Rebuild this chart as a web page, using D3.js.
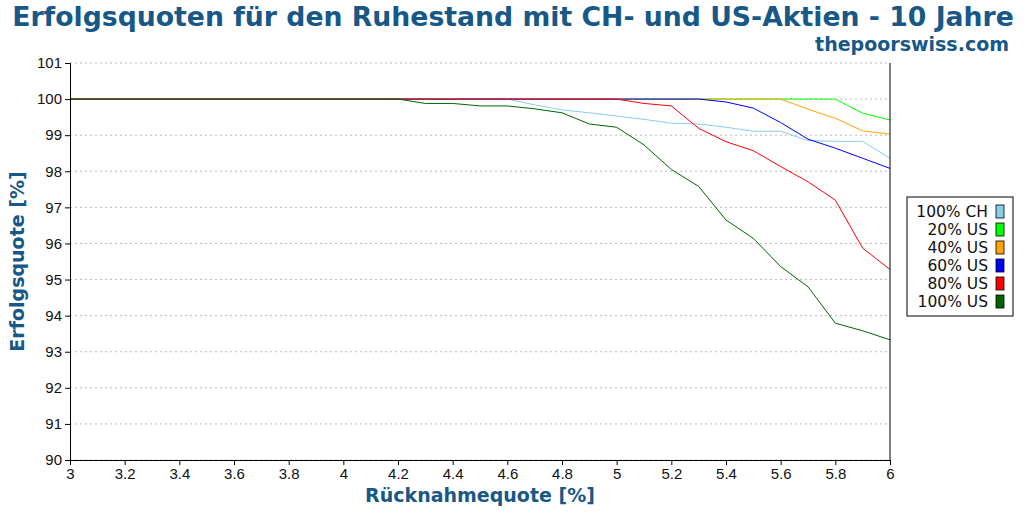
<!DOCTYPE html>
<html>
<head>
<meta charset="utf-8">
<script src="https://cdn.jsdelivr.net/npm/d3@7"></script>
<style>
  body { margin: 0; background: #fff; }
  svg { font-family: "DejaVu Sans", sans-serif; }
  .tick text { font-size: 15px; fill: #111; }
  .grid line { stroke: #bbb; stroke-dasharray: 2,3; }
</style>
</head>
<body>
<div id="chart"></div>
<script>
////////////////////////////  Data  ////////////////////////////
const rates = [3.0, 3.1, 3.2, 3.3, 3.4, 3.5, 3.6, 3.7, 3.8, 3.9, 4.0, 4.1, 4.2, 4.3, 4.4, 4.5,
  4.6, 4.7, 4.8, 4.9, 5.0, 5.1, 5.2, 5.3, 5.4, 5.5, 5.6, 5.7, 5.8, 5.9, 6.0];

const ch100 = [100, 100, 100, 100, 100, 100, 100, 100, 100, 100, 100, 100, 100, 100, 100, 100,
  100, 99.84, 99.70, 99.62, 99.53, 99.44, 99.33, 99.31, 99.22, 99.11, 99.11, 98.85, 98.83, 98.83, 98.36];
const us20 = [100, 100, 100, 100, 100, 100, 100, 100, 100, 100, 100, 100, 100, 100, 100, 100,
  100, 100, 100, 100, 100, 100, 100, 100, 100, 100, 100, 100, 100, 99.61, 99.42];
const us40 = [100, 100, 100, 100, 100, 100, 100, 100, 100, 100, 100, 100, 100, 100, 100, 100,
  100, 100, 100, 100, 100, 100, 100, 100, 100, 100, 100, 99.72, 99.47, 99.12, 99.03];
const us60 = [100, 100, 100, 100, 100, 100, 100, 100, 100, 100, 100, 100, 100, 100, 100, 100,
  100, 100, 100, 100, 100, 100, 100, 100, 99.92, 99.75, 99.35, 98.89, 98.64, 98.36, 98.08];
const us80 = [100, 100, 100, 100, 100, 100, 100, 100, 100, 100, 100, 100, 100, 100, 100, 100,
  100, 100, 100, 100, 100, 99.88, 99.81, 99.19, 98.82, 98.57, 98.13, 97.71, 97.20, 95.87, 95.28];
const us100 = [100, 100, 100, 100, 100, 100, 100, 100, 100, 100, 100, 100, 100, 99.88, 99.88, 99.81,
  99.81, 99.73, 99.62, 99.31, 99.22, 98.73, 98.05, 97.58, 96.65, 96.14, 95.36, 94.80, 93.79, 93.58, 93.33];

const seriesNames = ["100% CH", "20% US", "40% US", "60% US", "80% US", "100% US"];
const seriesValues = [ch100, us20, us40, us60, us80, us100];
const colors = ["#87ceeb", "#00ff00", "#ffa500", "#0000ff", "#ff0000", "#006400"];

const xTicks = [3, 3.2, 3.4, 3.6, 3.8, 4, 4.2, 4.4, 4.6, 4.8, 5, 5.2, 5.4, 5.6, 5.8, 6];
const yTicks = [90, 91, 92, 93, 94, 95, 96, 97, 98, 99, 100, 101];

////////////////////////////  Init  ////////////////////////////
const width = 1024, height = 512;
const margin = { top: 63, right: 134, bottom: 52, left: 70 };
const titleColor = "#175887";

const svg = d3.select("#chart").append("svg")
  .attr("width", width).attr("height", height);

const x = d3.scaleLinear().domain([3, 6]).range([margin.left, width - margin.right]);
const y = d3.scaleLinear().domain([90, 101]).range([height - margin.bottom, margin.top]);

// grid
svg.append("g").attr("class", "grid")
  .selectAll("line").data(yTicks).enter().append("line")
  .attr("x1", x(3)).attr("x2", x(6))
  .attr("y1", d => y(d)).attr("y2", d => y(d));

// lines
const line = d3.line().x((d, i) => x(rates[i])).y(d => y(d));
svg.append("g").selectAll("path").data(seriesValues).enter().append("path")
  .attr("d", line)
  .attr("fill", "none")
  .attr("stroke", (d, i) => colors[i])
  .attr("stroke-width", 1);

// axes
svg.append("g")
  .attr("transform", `translate(0,${y(90)})`)
  .call(d3.axisBottom(x).tickValues(xTicks).tickFormat(d3.format("~g"))
    .tickSizeOuter(0).tickSize(5).tickPadding(3))
  .call(g => g.select(".domain").attr("stroke", "#000"));

svg.append("g")
  .attr("transform", `translate(${x(3)},0)`)
  .call(d3.axisLeft(y).tickValues(yTicks).tickSizeOuter(0).tickSize(5).tickPadding(3))
  .call(g => g.select(".domain").attr("stroke", "#000"));

// right border line
svg.append("line")
  .attr("x1", x(6)).attr("x2", x(6))
  .attr("y1", y(101)).attr("y2", y(90))
  .attr("stroke", "#000");

// titles
svg.append("text")
  .attr("x", width / 2 + 1).attr("y", 26)
  .attr("text-anchor", "middle")
  .attr("font-size", 26.7).attr("font-weight", "bold")
  .attr("fill", titleColor)
  .text("Erfolgsquoten für den Ruhestand mit CH- und US-Aktien - 10 Jahre");

svg.append("text")
  .attr("x", 1009).attr("y", 51)
  .attr("text-anchor", "end")
  .attr("font-size", 19).attr("font-weight", "bold")
  .attr("fill", titleColor)
  .text("thepoorswiss.com");

svg.append("text")
  .attr("x", (x(3) + x(6)) / 2).attr("y", 502)
  .attr("text-anchor", "middle")
  .attr("font-size", 19).attr("font-weight", "bold")
  .attr("fill", titleColor)
  .text("Rücknahmequote [%]");

svg.append("text")
  .attr("transform", `translate(24,${(y(90) + y(101)) / 2}) rotate(-90)`)
  .attr("text-anchor", "middle")
  .attr("font-size", 19).attr("font-weight", "bold")
  .attr("fill", titleColor)
  .text("Erfolgsquote [%]");

// legend
const legend = svg.append("g").attr("transform", "translate(907,197)");
legend.append("rect")
  .attr("width", 106).attr("height", 119)
  .attr("fill", "#fff").attr("stroke", "#000");

const item = legend.selectAll(".item").data(seriesNames).enter().append("g")
  .attr("class", "item")
  .attr("transform", (d, i) => `translate(0,${14 + i * 18})`);

item.append("text")
  .attr("x", 81).attr("y", 5.5)
  .attr("text-anchor", "end")
  .attr("font-size", 15.5).attr("fill", "#111")
  .text(d => d);

item.append("rect")
  .attr("x", 89).attr("y", -6)
  .attr("width", 8).attr("height", 13)
  .attr("fill", (d, i) => colors[i])
  .attr("stroke", "#000").attr("stroke-width", 0.8);
</script>
</body>
</html>
